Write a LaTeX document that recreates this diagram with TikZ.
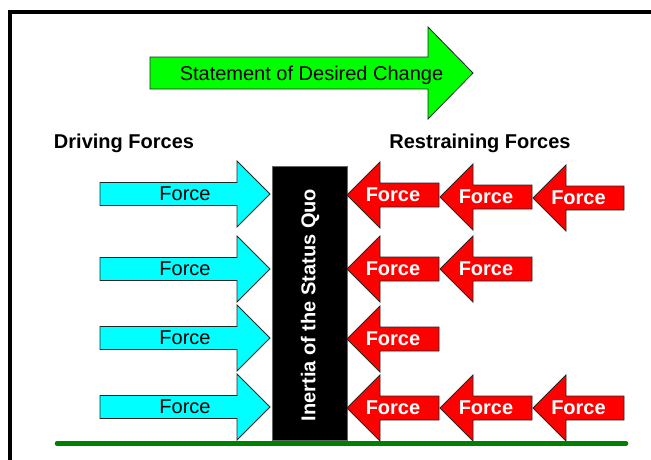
\documentclass[tikz,border=0pt]{standalone}
\usepackage{fontspec}
\setmainfont{Liberation Sans}
\definecolor{forcecyan}{RGB}{0,255,255}
\definecolor{forcered}{RGB}{255,0,0}
\definecolor{changegreen}{RGB}{0,255,0}
\definecolor{groundgreen}{RGB}{0,128,0}
\newcommand\forcearrow[7]{%
  \pgfmathsetmacro\fabase{#3-(#7)}%
  \pgfmathsetmacro\fast{#4-#5}%
  \pgfmathsetmacro\fasb{#4+#5}%
  \pgfmathsetmacro\faht{#4-#6}%
  \pgfmathsetmacro\fahb{#4+#6}%
  \draw[#1] (#2,\fast) -- (\fabase,\fast) -- (\fabase,\faht) -- (#3,#4)
    -- (\fabase,\fahb) -- (\fabase,\fasb) -- (#2,\fasb) -- cycle;}
\tikzset{
  outl/.style={draw=black!85, line width=0.8pt, line join=miter},
  drivearrow/.style={outl, fill=forcecyan},
  restrainarrow/.style={outl, fill=forcered},
  changearrow/.style={outl, fill=changegreen},
  drivelabel/.style={font=\fontsize{20}{24}\selectfont, text=black, inner sep=0pt},
  restrainlabel/.style={font=\bfseries\fontsize{20}{24}\selectfont, text=white, inner sep=0pt},
  heading/.style={font=\bfseries\fontsize{20}{24}\selectfont, anchor=base, inner sep=0pt},
}
\begin{document}
\begin{tikzpicture}[x=1pt,y=-1pt]
\useasboundingbox (0,0) rectangle (651,459);
\clip (0,0) rectangle (651,459);
\fill[white] (0,0) rectangle (651,459);
% frame
\coordinate (fbl) at (10,470);
\coordinate (ftl) at (10,12);
\coordinate (ftr) at (665,12);
\draw[line width=4.5pt] (fbl) -- (ftl) -- (ftr);
% change arrow
\forcearrow{changearrow}{150}{473}{73}{16}{46}{45}
\node[drivelabel, anchor=base] (change) at (311.5,80) {Statement of Desired Change};
% headings
\node[heading] (driving) at (124,148) {Driving Forces};
\node[heading] (restraining) at (480,148) {Restraining Forces};
% status quo box
\node[fill=black, draw=black!60, line width=0.6pt, minimum width=75, minimum height=274, inner sep=0pt] (sq) at (309.5,303) {};
\node[rotate=90, font=\bfseries\fontsize{20}{24}\selectfont, text=white, inner sep=0pt] (sqlabel) at (310,305) {Inertia of the Status Quo};
% driving forces
\forcearrow{drivearrow}{100}{270}{194}{11.5}{33}{33}
\forcearrow{drivearrow}{100}{270}{269}{11.5}{33}{33}
\forcearrow{drivearrow}{100}{270}{338}{11.5}{33}{33}
\forcearrow{drivearrow}{100}{270}{407}{11.5}{33}{33}
\node[drivelabel] (d1) at (185,194) {Force};
\node[drivelabel] (d2) at (185,269) {Force};
\node[drivelabel] (d3) at (185,338) {Force};
\node[drivelabel] (d4) at (185,407) {Force};
% restraining forces
\forcearrow{restrainarrow}{439}{347}{195}{12}{33}{-33}
\forcearrow{restrainarrow}{532}{440}{197}{12}{33}{-33}
\forcearrow{restrainarrow}{624}{533}{198}{12}{33}{-33}
\forcearrow{restrainarrow}{439}{347}{269}{12}{33}{-33}
\forcearrow{restrainarrow}{532}{440}{269}{12}{33}{-33}
\forcearrow{restrainarrow}{439}{347}{339}{12}{33}{-33}
\forcearrow{restrainarrow}{439}{347}{408}{12}{33}{-33}
\forcearrow{restrainarrow}{532}{440}{408}{12}{33}{-33}
\forcearrow{restrainarrow}{624}{533}{408}{12}{33}{-33}
\node[restrainlabel] (r11) at (393,195) {Force};
\node[restrainlabel] (r12) at (486,197) {Force};
\node[restrainlabel] (r13) at (578.5,198) {Force};
\node[restrainlabel] (r21) at (393,269) {Force};
\node[restrainlabel] (r22) at (486,269) {Force};
\node[restrainlabel] (r31) at (393,339) {Force};
\node[restrainlabel] (r41) at (393,408) {Force};
\node[restrainlabel] (r42) at (486,408) {Force};
\node[restrainlabel] (r43) at (578.5,408) {Force};
% ground line
\coordinate (g1) at (57,443.5);
\coordinate (g2) at (626,443.5);
\draw[groundgreen, line width=4.5pt, line cap=round] (g1) -- (g2);
\end{tikzpicture}
\end{document}
